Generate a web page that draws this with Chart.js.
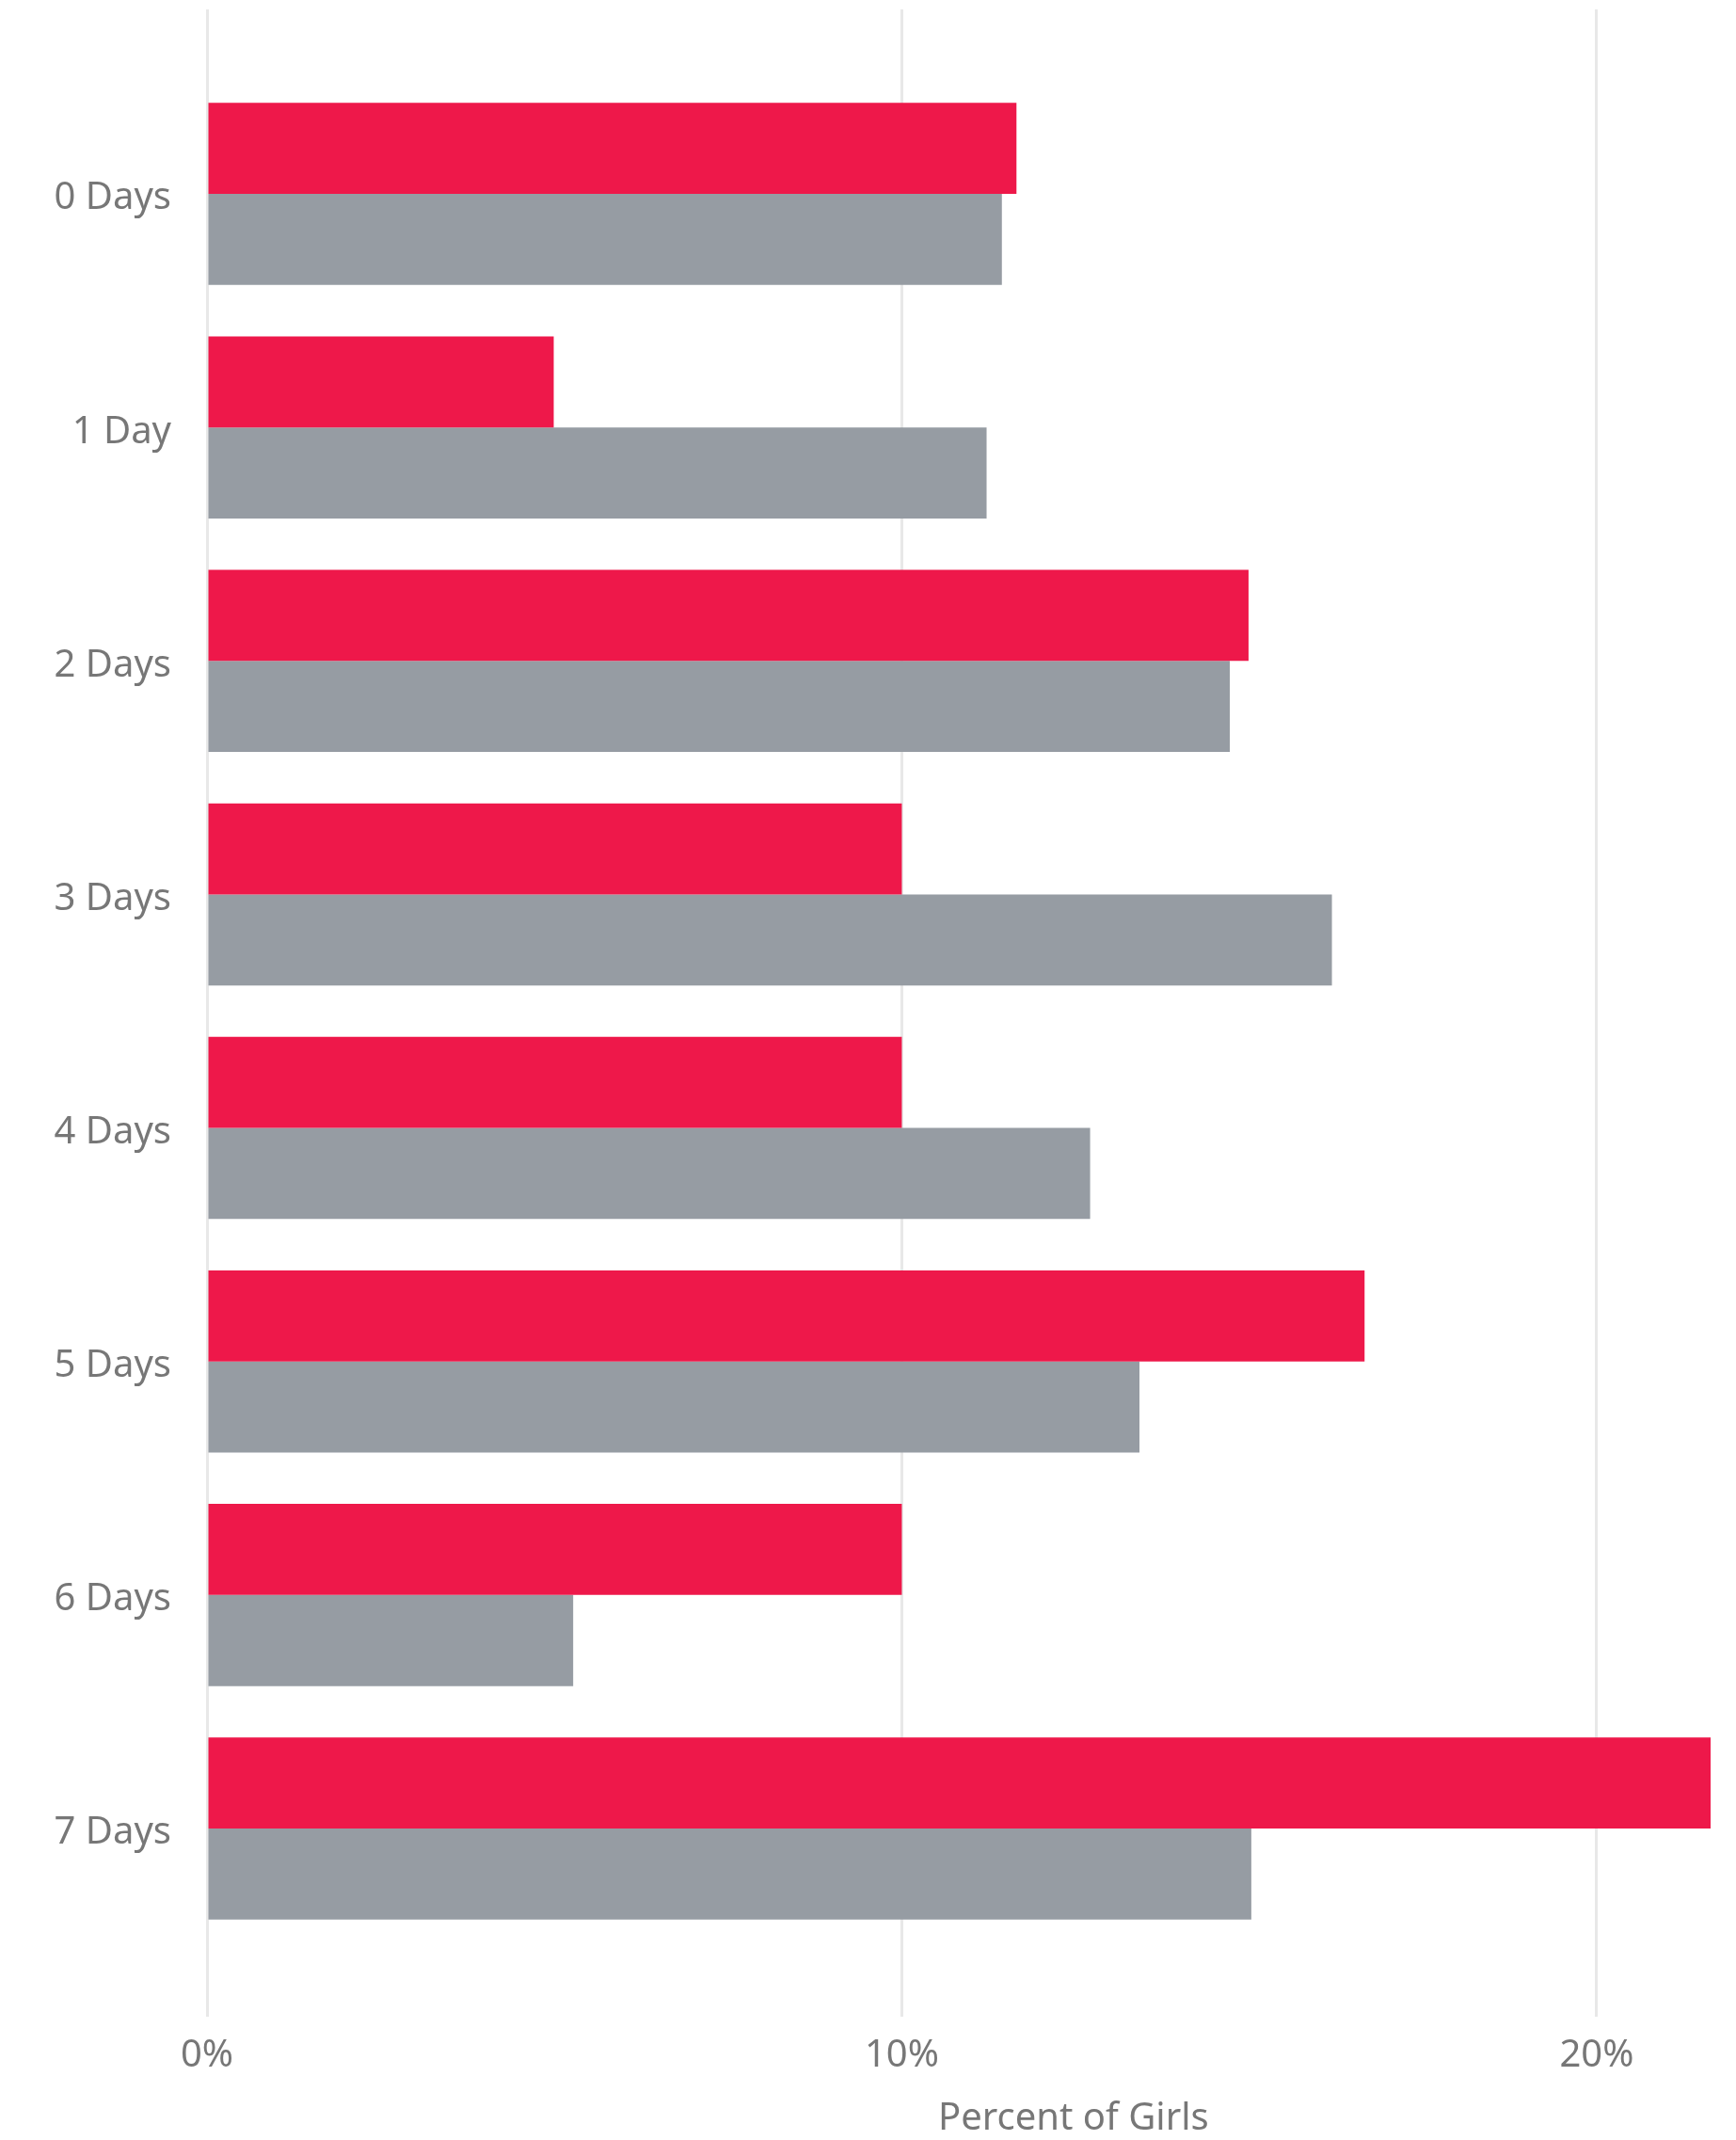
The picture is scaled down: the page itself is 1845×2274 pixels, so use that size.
<!DOCTYPE html>
<html>
<head>
<meta charset="utf-8">
<script src="https://cdn.jsdelivr.net/npm/chart.js@4"></script>
<style>
  body { margin: 0; background: #fff; }
  #wrap { width: 1845px; height: 2274px; position: relative; }
</style>
</head>
<body>
<div id="wrap"><canvas id="myChart"></canvas></div>
<script>
// categories and values (percent of girls)
const categories = ['0 Days', '1 Day', '2 Days', '3 Days', '4 Days', '5 Days', '6 Days', '7 Days'];
const redValues  = [11.65, 4.99, 14.99, 10.0, 10.0, 16.66, 10.0, 21.64];
const grayValues = [11.44, 11.22, 14.72, 16.19, 12.71, 13.42, 5.27, 15.03];
const xTicks = [0, 10, 20];
const axisTitle = 'Percent of Girls';

const textColor = '#777777';
const fontFamily = '"Noto Sans", "Open Sans", sans-serif';

// bars on a linear index axis, so the grid can run past the first/last category
const toPoints = (vals) => vals.map((v, i) => ({ x: v, y: i }));

// draws the x axis title (it sits right of centre in the original)
const titlePlugin = {
    id: 'xTitle',
    afterDraw(chart) {
        const ctx = chart.ctx;
        const x = chart.scales.x;
        ctx.save();
        ctx.font = '40px ' + fontFamily;
        ctx.fillStyle = textColor;
        ctx.textAlign = 'center';
        ctx.textBaseline = 'middle';
        ctx.fillText(axisTitle, x.getPixelForValue(12.47), 2252);
        ctx.restore();
    }
};

const config = {
    type: 'bar',
    data: {
        datasets: [
            { data: toPoints(redValues), backgroundColor: '#EE184A', borderWidth: 0 },
            { data: toPoints(grayValues), backgroundColor: '#969CA3', borderWidth: 0 }
        ]
    },
    options: {
        indexAxis: 'y',
        responsive: true,
        maintainAspectRatio: false,
        animation: false,
        categoryPercentage: 0.78,
        barPercentage: 1,
        layout: { padding: { top: 10, right: 27, left: 0, bottom: 0 } },
        plugins: {
            legend: { display: false },
            tooltip: { enabled: false }
        },
        scales: {
            x: {
                type: 'linear',
                min: 0,
                max: 21.64,
                border: { display: false },
                grid: { color: '#E8E8E8', lineWidth: 3, drawTicks: false },
                afterBuildTicks: (axis) => {
                    axis.ticks = xTicks.map(v => ({ value: v }));
                },
                afterFit: (axis) => { axis.height = 131; },
                ticks: {
                    padding: 18,
                    color: textColor,
                    font: { size: 40, family: fontFamily },
                    callback: (v) => v + '%'
                }
            },
            y: {
                type: 'linear',
                reverse: true,
                offset: false,
                min: -0.79,
                max: 7.806,
                border: { display: false },
                grid: { display: false, drawTicks: false, offset: false },
                afterBuildTicks: (axis) => {
                    axis.ticks = categories.map((_, i) => ({ value: i }));
                },
                afterFit: (axis) => {
                    axis.width = 220;
                    axis.paddingTop = 0;
                    axis.paddingBottom = 0;
                },
                ticks: {
                    padding: 38,
                    labelOffset: 5,
                    color: textColor,
                    font: { size: 40, family: fontFamily },
                    callback: (v) => categories[v]
                }
            }
        }
    },
    plugins: [titlePlugin]
};

new Chart(document.querySelector('#myChart').getContext('2d'), config);
</script>
</body>
</html>
